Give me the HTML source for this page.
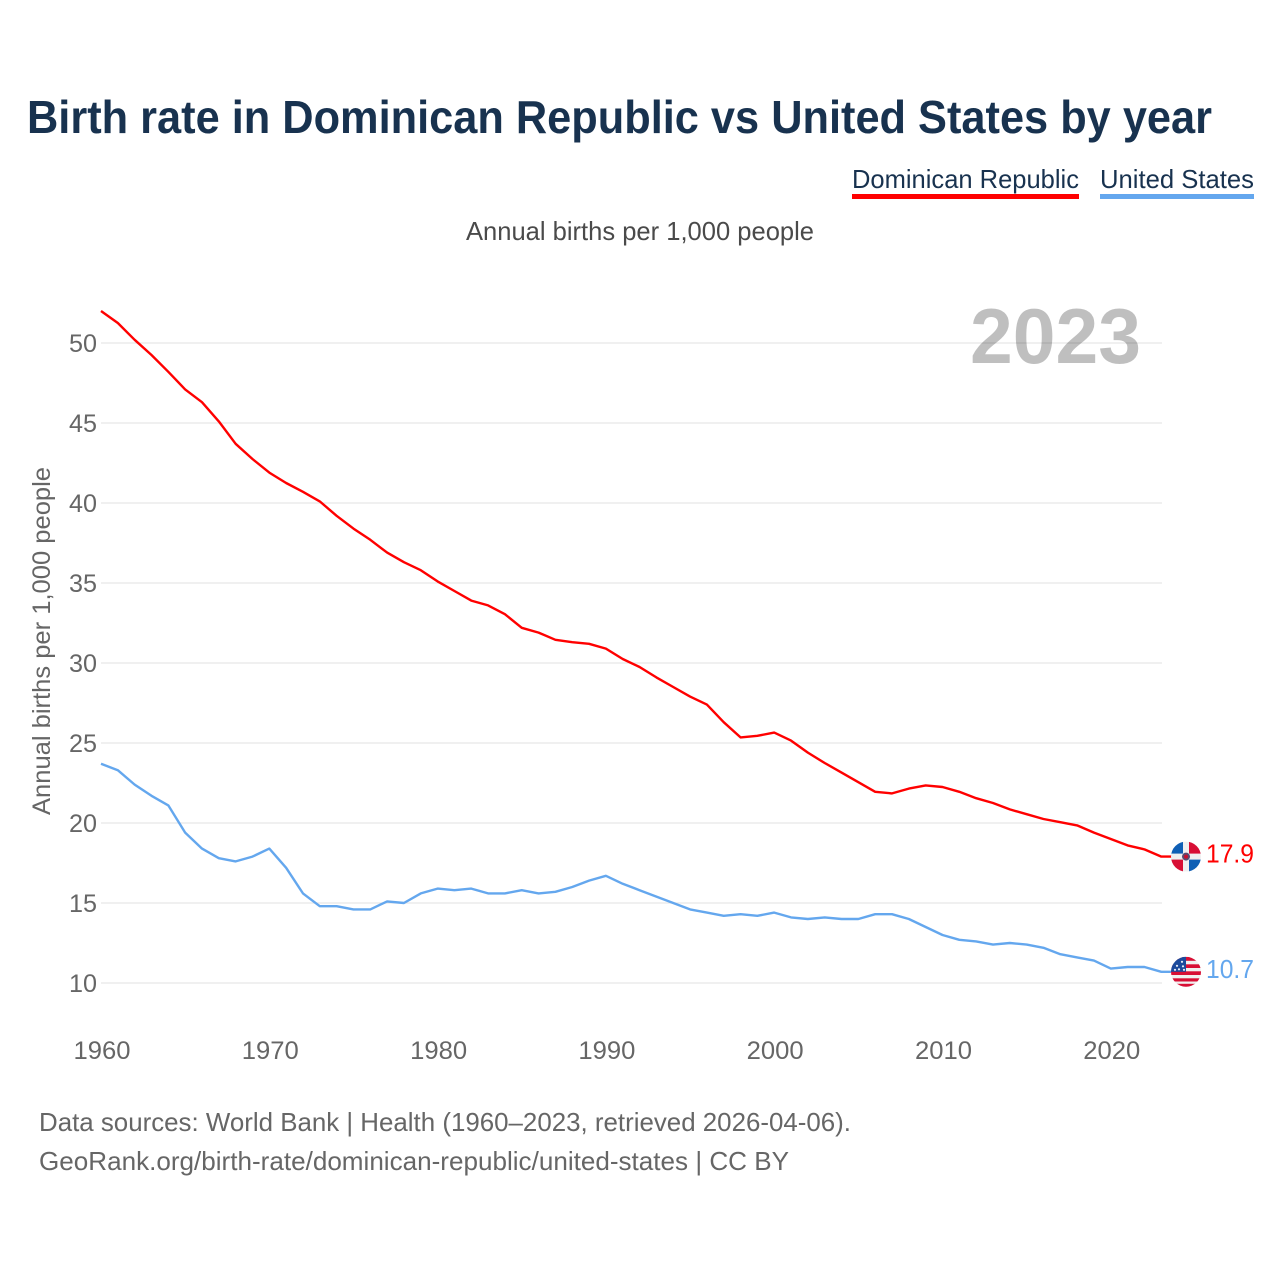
<!DOCTYPE html>
<html>
<head>
<meta charset="utf-8">
<title>Birth rate in Dominican Republic vs United States by year</title>
<style>
html,body{margin:0;padding:0;background:#fff;width:1280px;height:1280px;overflow:hidden}
svg{display:block;font-family:"Liberation Sans",sans-serif}
</style>
</head>
<body>
<svg id="chart" xmlns="http://www.w3.org/2000/svg" width="1280" height="1280" viewBox="0 0 1280 1280">
  <rect width="1280" height="1280" fill="#fff"/>
  <text x="27" y="133" font-size="46" font-weight="700" fill="#18324f" textLength="1185" lengthAdjust="spacingAndGlyphs">Birth rate in Dominican Republic vs United States by year</text>
  <g>
    <text x="852" y="188" font-size="26" fill="#18324f" textLength="227" lengthAdjust="spacingAndGlyphs">Dominican Republic</text>
    <rect x="852" y="194" width="227" height="5" fill="#ff0000"/>
  </g>
  <g>
    <text x="1100" y="188" font-size="26" fill="#18324f" textLength="154" lengthAdjust="spacingAndGlyphs">United States</text>
    <rect x="1100" y="194" width="154" height="5" fill="#64a7ee"/>
  </g>
  <text x="466" y="240" font-size="26" fill="#4a4a4a" textLength="348" lengthAdjust="spacingAndGlyphs">Annual births per 1,000 people</text>
  <text transform="translate(50,815) rotate(-90)" x="0" y="0" font-size="25" fill="#666" textLength="348" lengthAdjust="spacingAndGlyphs">Annual births per 1,000 people</text>
  <g id="grid"></g>
  <g id="yticks"></g>
  <g id="xticks"></g>
  <text x="970" y="363" font-size="78" font-weight="700" fill="#000" fill-opacity="0.25" textLength="171" lengthAdjust="spacingAndGlyphs">2023</text>
  <g id="series"></g>

  <defs>
    <clipPath id="clip-do"><circle cx="0" cy="0" r="15"/></clipPath>
    <clipPath id="clip-us"><circle cx="0" cy="0" r="15"/></clipPath>
  </defs>
  <g id="flag-do">
    <g clip-path="url(#clip-do)">
      <rect x="-15" y="-15" width="30" height="30" fill="#f0f0f0"/>
      <rect x="-15" y="-15" width="12" height="12" fill="#0f5fb5"/>
      <rect x="3" y="-15" width="12" height="12" fill="#d80f35"/>
      <rect x="-15" y="3" width="12" height="12" fill="#d80f35"/>
      <rect x="3" y="3" width="12" height="12" fill="#0f5fb5"/>
      <circle r="4" fill="#5a4a70"/>
      <circle r="2" fill="#c8102e"/>
    </g>
  </g>
  <g id="flag-us">
    <g clip-path="url(#clip-us)">
      <rect x="-15" y="-15" width="30" height="30" fill="#f0f0f0"/>
      <rect x="-15" y="-15" width="30" height="4" fill="#d80f35"/>
      <rect x="-15" y="-7.5" width="30" height="3.7" fill="#d80f35"/>
      <rect x="-15" y="-0.5" width="30" height="3.7" fill="#d80f35"/>
      <rect x="-15" y="6.5" width="30" height="3.2" fill="#d80f35"/>
      <rect x="-15" y="12" width="30" height="4" fill="#d80f35"/>
      <rect x="-15" y="-15" width="15" height="15" fill="#1c4a9c"/>
      <g fill="#e8eef8">
        <circle cx="-4" cy="-10" r="1.1"/><circle cx="-9" cy="-6" r="1.1"/><circle cx="-3" cy="-5.5" r="1.1"/><circle cx="-7" cy="-2.5" r="1.1"/><circle cx="-2" cy="-2" r="1.1"/><circle cx="-11" cy="-2" r="1.1"/>
      </g>
    </g>
  </g>
  <text id="end-label-do" x="1206" y="862" font-size="26" fill="#ff0000" textLength="48" lengthAdjust="spacingAndGlyphs"></text>
  <text id="end-label-us" x="1206" y="977" font-size="26" fill="#64a7ee" textLength="48" lengthAdjust="spacingAndGlyphs"></text>

  <text x="39" y="1131" font-size="26" fill="#666" textLength="812" lengthAdjust="spacingAndGlyphs">Data sources: World Bank | Health (1960–2023, retrieved 2026-04-06).</text>
  <text x="39" y="1170" font-size="26" fill="#666" textLength="750" lengthAdjust="spacingAndGlyphs">GeoRank.org/birth-rate/dominican-republic/united-states | CC BY</text>
</svg>
<script>
const startYear = 1960;
const yTickValues = [10, 15, 20, 25, 30, 35, 40, 45, 50];
const xTickYears = [1960, 1970, 1980, 1990, 2000, 2010, 2020];
const dominicanRepublic = [
  52.0, 51.25, 50.2, 49.25, 48.2, 47.1, 46.3, 45.1, 43.7, 42.75,
  41.9, 41.25, 40.7, 40.1, 39.2, 38.4, 37.7, 36.9, 36.3, 35.8,
  35.1, 34.5, 33.9, 33.6, 33.05, 32.2, 31.9, 31.45, 31.3, 31.2,
  30.9, 30.25, 29.75, 29.1, 28.5, 27.9, 27.4, 26.3, 25.35, 25.45,
  25.65, 25.15, 24.4, 23.75, 23.15, 22.55, 21.95, 21.85, 22.15, 22.35,
  22.25, 21.95, 21.55, 21.25, 20.85, 20.55, 20.25, 20.05, 19.85, 19.4,
  19.0, 18.6, 18.35, 17.9
];
const unitedStates = [
  23.7, 23.3, 22.4, 21.7, 21.1, 19.4, 18.4, 17.8, 17.6, 17.9,
  18.4, 17.2, 15.6, 14.8, 14.8, 14.6, 14.6, 15.1, 15.0, 15.6,
  15.9, 15.8, 15.9, 15.6, 15.6, 15.8, 15.6, 15.7, 16.0, 16.4,
  16.7, 16.2, 15.8, 15.4, 15.0, 14.6, 14.4, 14.2, 14.3, 14.2,
  14.4, 14.1, 14.0, 14.1, 14.0, 14.0, 14.3, 14.3, 14.0, 13.5,
  13.0, 12.7, 12.6, 12.4, 12.5, 12.4, 12.2, 11.8, 11.6, 11.4,
  10.9, 11.0, 11.0, 10.7
];

const NS = 'http://www.w3.org/2000/svg';
const xScale = function (year) { return 101 + (year - 1960) * 16.83; };
const yScale = function (v) { return 983 - (v - 10) * 16; };
const gridRight = 1162;
const flagCenterX = 1186;
const connectorEnd = 1174;

function make(tag, parent) {
  const el = document.createElementNS(NS, tag);
  parent.appendChild(el);
  return el;
}

const grid = document.getElementById('grid');
const yticks = document.getElementById('yticks');
yTickValues.forEach(function (v) {
  const line = make('line', grid);
  
  
  line.setAttribute('x1', 101);
  line.setAttribute('x2', gridRight);
  line.setAttribute('y1', yScale(v));
  line.setAttribute('y2', yScale(v));
  line.setAttribute('stroke', '#e6e6e6');
  line.setAttribute('stroke-width', '1.2');
  const label = make('text', yticks);
  
  
  label.setAttribute('x', 97);
  label.setAttribute('y', yScale(v) + 9);
  label.setAttribute('text-anchor', 'end');
  label.setAttribute('font-size', '25');
  label.setAttribute('fill', '#666');
  label.setAttribute('textLength', '28');
  label.setAttribute('lengthAdjust', 'spacingAndGlyphs');
  label.textContent = String(v);
});

const xticks = document.getElementById('xticks');
xTickYears.forEach(function (yr) {
  const label = make('text', xticks);
  
  
  label.setAttribute('x', xScale(yr) + 1);
  label.setAttribute('y', 1059);
  label.setAttribute('text-anchor', 'middle');
  label.setAttribute('font-size', '25');
  label.setAttribute('fill', '#666');
  label.setAttribute('textLength', '57');
  label.setAttribute('lengthAdjust', 'spacingAndGlyphs');
  label.textContent = String(yr);
});

function pathFor(values) {
  const d = values.map(function (v, i) {
    return (i ? 'L' : 'M') + xScale(startYear + i).toFixed(2) + ' ' + yScale(v).toFixed(2);
  }).join(' ');
  return d + ' L' + connectorEnd + ' ' + yScale(values[values.length - 1]).toFixed(2);
}

const series = document.getElementById('series');
const lineDo = make('path', series);


lineDo.setAttribute('d', pathFor(dominicanRepublic));
lineDo.setAttribute('fill', 'none');
lineDo.setAttribute('stroke', '#ff0000');
lineDo.setAttribute('stroke-width', '2.4');
lineDo.setAttribute('stroke-linejoin', 'round');

const lineUs = make('path', series);


lineUs.setAttribute('d', pathFor(unitedStates));
lineUs.setAttribute('fill', 'none');
lineUs.setAttribute('stroke', '#64a7ee');
lineUs.setAttribute('stroke-width', '2.4');
lineUs.setAttribute('stroke-linejoin', 'round');

const lastDo = dominicanRepublic[dominicanRepublic.length - 1];
const lastUs = unitedStates[unitedStates.length - 1];
document.getElementById('flag-do').setAttribute('transform', 'translate(' + flagCenterX + ',' + yScale(lastDo) + ')');
document.getElementById('flag-us').setAttribute('transform', 'translate(' + flagCenterX + ',' + yScale(lastUs) + ')');
const labelDo = document.getElementById('end-label-do');
labelDo.textContent = lastDo.toFixed(1);
labelDo.setAttribute('y', yScale(lastDo) + 6);
const labelUs = document.getElementById('end-label-us');
labelUs.textContent = lastUs.toFixed(1);
labelUs.setAttribute('y', yScale(lastUs) + 6);
</script>
</body>
</html>
